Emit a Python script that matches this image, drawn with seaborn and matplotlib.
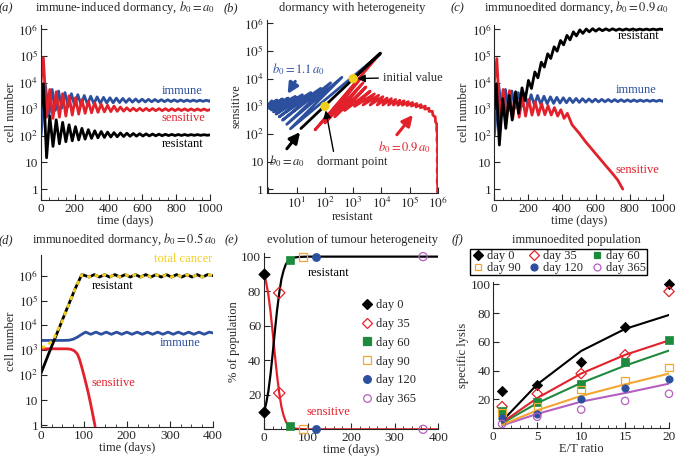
import numpy as np
import pandas as pd
import matplotlib
matplotlib.use('Agg')
import matplotlib.pyplot as plt
import seaborn as sns
from matplotlib.ticker import LogLocator, MultipleLocator, NullFormatter
from matplotlib.lines import Line2D

# ---------------- data ----------------
# (a) immune-induced dormancy, turning points of the oscillations
tumour_t = [0, 14, 33, 52, 71, 90, 109, 128, 147, 166, 185, 204, 223, 242, 261, 280, 299, 318,
            337, 356, 375, 394, 413, 432, 451, 470, 489, 508, 527, 546, 565, 584, 603, 622,
            641, 660, 679, 698, 717, 736, 755, 774, 793, 812, 831, 850, 869, 888, 907, 926,
            945, 964, 983, 1000]
a_sensitive = [1e4, 8.5e4, 500, 5500, 450, 4500, 500, 3800, 550, 3200, 600, 2700, 650, 2300,
               700, 2000, 730, 1750, 760, 1550, 790, 1400, 810, 1300, 830, 1200, 845, 1130,
               860, 1090, 865, 1080, 870, 1070, 872, 1060, 875, 1050, 878, 1045, 880, 1040,
               882, 1035, 884, 1030, 886, 1025, 888, 1020, 890, 1015, 892, 960]
a_resistant = [1e3, 9000, 15, 550, 40, 400, 50, 320, 60, 260, 65, 220, 70, 190, 75, 170, 80,
               155, 84, 145, 87, 138, 90, 132, 92, 128, 94, 125, 96, 122, 97, 120, 98, 118,
               99, 116, 100, 115, 101, 114, 102, 113, 102, 112, 103, 112, 103, 111, 104, 111,
               104, 110, 105, 108]
immune_t = [0, 26, 47, 66, 85, 104, 123, 142, 161, 180, 199, 218, 237, 256, 275, 294, 313, 332,
            351, 370, 389, 408, 427, 446, 465, 484, 503, 522, 541, 560, 579, 598, 617, 636,
            655, 674, 693, 712, 731, 750, 769, 788, 807, 826, 845, 864, 883, 902, 921, 940,
            959, 978, 997, 1000]
immune_cells = [100, 8000, 600, 5500, 900, 4800, 1100, 4200, 1250, 3800, 1350, 3500, 1450, 3250,
                1530, 3050, 1600, 2900, 1650, 2780, 1700, 2680, 1740, 2600, 1770, 2530, 1800,
                2470, 1830, 2420, 1850, 2380, 1870, 2340, 1890, 2310, 1900, 2280, 1910, 2260,
                1920, 2240, 1930, 2220, 1940, 2200, 1950, 2190, 1955, 2180, 1960, 2170, 1965,
                2100]

# (b) phase plane (log10 resistant, log10 sensitive)
b_black_logres = [3.0, 3.96, 1.15]
b_black_logsens = [4.0, 4.92, 2.2]
b_blue_logres = [3.0, 3.96, 0.78, 2.6, 0.65, 2.2, 0.5, 1.85, 0.38, 1.5, 0.27, 1.2, 0.18, 0.95,
                 0.1, 0.7, 0.04, 0.5, -0.02, 0.3, -0.06, 0.12]
b_blue_logsens = [4.0, 4.9, 2.19, 4.05, 2.35, 3.85, 2.5, 3.65, 2.62, 3.5, 2.72, 3.42, 2.8, 3.36,
                  2.87, 3.3, 2.92, 3.27, 2.96, 3.23, 3.0, 3.2]
b_red_logres = [3.0, 3.96, 1.65, 3.3, 2.0, 3.35, 2.35, 3.45, 2.7, 3.6, 3.05, 3.75, 3.35, 3.9,
                3.6, 4.05, 3.85, 4.2, 4.05, 4.35, 4.25, 4.5, 4.42, 4.65, 4.58, 4.8, 4.74, 4.95,
                4.9, 5.1, 5.06, 5.25, 5.22, 5.4, 5.38, 5.55, 5.53, 5.68, 5.68, 5.8, 5.82, 5.9,
                5.91, 5.96, 5.95, 5.98, 5.96, 5.99, 5.97, 5.99, 5.97, 5.99, 5.97, 5.99, 5.97,
                5.99, 5.98]
b_red_logsens = [4.0, 4.92, 2.15, 4.05, 2.4, 3.85, 2.62, 3.7, 2.85, 3.55, 3.0, 3.45, 3.05, 3.4,
                 3.05, 3.35, 3.05, 3.3, 3.05, 3.28, 3.05, 3.25, 3.05, 3.22, 3.04, 3.2, 3.04, 3.17,
                 3.03, 3.14, 3.01, 3.1, 2.98, 3.06, 2.95, 3.01, 2.9, 2.93, 2.82, 2.82, 2.68, 2.62,
                 2.45, 2.35, 2.15, 2.0, 1.8, 1.62, 1.42, 1.25, 1.05, 0.88, 0.68, 0.5, 0.3, 0.12,
                 -0.1]
marked_res = [1e3, 1e2]      # initial value, dormant point
marked_sens = [1e4, 1e3]

# (c) immunoedited dormancy, b0 = 0.9 a0
c_res_t = [0, 12, 30, 50, 68, 88, 106, 126, 144, 164, 182, 202, 220, 240, 258, 278, 296, 316,
           334, 354, 372, 392, 410, 430, 448, 468, 486, 506, 524, 544, 562, 582, 600, 620,
           640, 660, 680, 700, 720, 740, 760, 780, 800, 820, 840, 860, 880, 900, 920, 940,
           960, 980, 1000]
c_resistant = [1e3, 9000, 45, 2500, 190, 3300, 390, 4500, 700, 6300, 2100, 12000, 6000, 25000,
               15000, 58000, 38000, 120000, 80000, 220000, 150000, 380000, 260000, 590000,
               400000, 800000, 560000, 950000, 700000, 1.02e6, 800000, 1.05e6, 850000,
               1.05e6, 880000, 1.04e6, 900000, 1.04e6, 910000, 1.03e6, 920000, 1.03e6, 930000,
               1.03e6, 930000, 1.02e6, 940000, 1.02e6, 940000, 1.02e6, 950000, 1.02e6, 980000]
c_sens_t = [0, 15, 33, 52, 71, 90, 109, 128, 147, 166, 185, 204, 223, 242, 261, 280, 299, 318,
            337, 356, 375, 394, 413, 432, 460, 500, 540, 580, 620, 660, 700, 730, 760]
c_sensitive = [1e4, 8e4, 400, 5500, 400, 5000, 450, 4000, 500, 3000, 550, 2300, 600, 1900, 600,
               1600, 620, 1350, 600, 1150, 550, 950, 450, 700, 260, 130, 60, 30, 15, 7.5, 3.8,
               2.2, 1.0]

# (d) immunoedited dormancy, b0 = 0.5 a0
d_res_t = [0, 20, 40, 60, 80, 95, 100, 112, 124, 136, 148, 160, 172, 184, 196, 208, 220, 232,
           244, 256, 268, 280, 292, 304, 316, 328, 340, 352, 364, 376, 388, 400]
d_resistant = [120, 900, 6300, 45000, 310000, 1.1e6, 1.05e6, 8.8e5, 1.1e6, 8.8e5, 1.1e6, 8.8e5,
               1.1e6, 8.8e5, 1.1e6, 8.8e5, 1.1e6, 8.8e5, 1.1e6, 8.8e5, 1.1e6, 8.8e5, 1.1e6,
               8.8e5, 1.1e6, 8.8e5, 1.1e6, 8.8e5, 1.1e6, 8.8e5, 1.1e6, 1.0e6]
d_total_t = [0, 10, 20, 30, 40, 50, 60, 80, 95, 100, 112, 124, 136, 148, 160, 172, 184, 196, 208,
             220, 232, 244, 256, 268, 280, 292, 304, 316, 328, 340, 352, 364, 376, 388, 400]
d_total = [1300, 1400, 1900, 3000, 7000, 15000, 46000, 310000, 1.1e6, 1.05e6, 8.8e5, 1.1e6,
           8.8e5, 1.1e6, 8.8e5, 1.1e6, 8.8e5, 1.1e6, 8.8e5, 1.1e6, 8.8e5, 1.1e6, 8.8e5, 1.1e6,
           8.8e5, 1.1e6, 8.8e5, 1.1e6, 8.8e5, 1.1e6, 8.8e5, 1.1e6, 8.8e5, 1.1e6, 1.0e6]
d_sens_t = [0, 60, 70, 78, 85, 90, 95, 100, 105, 110, 115, 120, 126]
d_sensitive = [1150, 1150, 1100, 950, 700, 420, 210, 100, 45, 20, 8, 3, 0.9]
d_imm_t = [0, 50, 65, 75, 85, 95, 104, 116, 128, 140, 152, 164, 176, 188, 200, 212, 224, 236,
           248, 260, 272, 284, 296, 308, 320, 332, 344, 356, 368, 380, 392, 400]
d_immune = [2500, 2500, 2550, 2800, 3400, 4400, 5400, 4400, 5400, 4400, 5400, 4400, 5400, 4400,
            5400, 4400, 5400, 4400, 5400, 4400, 5400, 4400, 5400, 4400, 5400, 4400, 5400, 4400,
            5400, 4400, 5400, 5000]

# (e) evolution of tumour heterogeneity
day_names = ['day 0', 'day 35', 'day 60', 'day 90', 'day 120', 'day 365']
day_t = [0, 35, 60, 90, 120, 365]
e_res_pct = [10, 79, 98, 100, 100, 100]
e_sens_pct = [90, 21, 2, 0, 0, 0]
e_curve_t = [0, 5, 10, 15, 20, 25, 30, 35, 40, 45, 50, 55, 60, 70, 80, 100, 150, 400]
e_res_curve = [10, 15, 22, 32, 44, 57, 69, 79, 87, 92, 95.5, 97.5, 98.5, 99.5, 99.8, 100, 100, 100]
e_sens_curve = [90, 85, 78, 68, 56, 43, 31, 21, 13, 8, 4.5, 2.5, 1.5, 0.5, 0.2, 0, 0, 0]

# (f) immunoedited population
et_ratio = [1, 5, 10, 15, 20]
lysis_day0 = [26, 30, 46, 70, 100]
lysis_day35 = [15, 24, 38, 51, 95]
lysis_day60 = [12, 18, 31, 46, 61]
lysis_day90 = [11, 15, 27, 33, 42]
lysis_day120 = [7, 10, 20, 28, 34]
lysis_day365 = [3, 8, 13, 19, 24]
fit_day0 = [5, 30.5, 53.7, 69, 78.7]
fit_day35 = [4, 21, 38, 51, 61]
fit_day60 = [3.5, 17.5, 31.5, 43.5, 54]
fit_day90 = [2.5, 12.5, 22.5, 30.5, 38]
fit_day365 = [2, 10, 18.5, 24.5, 31]

# ---------------- style ----------------
sns.set_style('ticks')
plt.rcParams['font.family'] = ['Liberation Serif', 'DejaVu Serif']
plt.rcParams['mathtext.fontset'] = 'stix'
plt.rcParams['xtick.direction'] = 'in'
plt.rcParams['ytick.direction'] = 'in'
plt.rcParams['axes.linewidth'] = 0.8
plt.rcParams['xtick.major.size'] = 4
plt.rcParams['ytick.major.size'] = 4
plt.rcParams['xtick.minor.size'] = 2
plt.rcParams['ytick.minor.size'] = 2

BLUE = '#2c4f9e'
RED = '#e3212b'
YELLOW = '#f2cf1c'
GREEN = '#1e8a3e'
ORANGE = '#f4a630'
PURPLE = '#b55fbf'
TICK_FS = 9.5
LAB_FS = 9
TXT_FS = 9

W, H = 676, 459
fig = plt.figure(figsize=(W / 100, H / 100), dpi=100)


def add_ax(l, t, r, b):
    ax = fig.add_axes([l / W, 1 - b / H, (r - l) / W, (b - t) / H])
    sns.despine(ax=ax)
    ax.tick_params(labelsize=TICK_FS, pad=2)
    return ax


def ftext(x, y, s, **kw):
    kw.setdefault('fontsize', TXT_FS)
    kw.setdefault('ha', 'center')
    kw.setdefault('va', 'center')
    fig.text(x / W, 1 - y / H, s, **kw)


def line(ax, x, y, color, lw=2.0, **kw):
    df = pd.DataFrame({'x': x, 'y': y})
    sns.lineplot(data=df, x='x', y='y', ax=ax, color=color, lw=lw, sort=False,
                 estimator=None, **kw)


LOG_TICKS = [1, 10, 1e2, 1e3, 1e4, 1e5, 1e6]
LOG_LABELS = ['1', '10', '$10^2$', '$10^3$', '$10^4$', '$10^5$', '$10^6$']


def log_y(ax, lo, hi):
    ax.set_yscale('log')
    ax.set_ylim(10 ** lo, 10 ** hi)
    ax.set_yticks(LOG_TICKS)
    ax.set_yticklabels(LOG_LABELS)
    ax.yaxis.set_minor_locator(LogLocator(base=10, subs=np.arange(2, 10)))
    ax.yaxis.set_minor_formatter(NullFormatter())


# ---------------- (a) ----------------
ax = add_ax(41, 25, 210, 200)
line(ax, immune_t, immune_cells, BLUE)
line(ax, tumour_t, a_sensitive, RED)
line(ax, tumour_t, a_resistant, 'black')
log_y(ax, -0.41, 6.16)
ax.set_xlim(0, 1000)
ax.set_xticks([0, 200, 400, 600, 800, 1000])
ax.xaxis.set_minor_locator(MultipleLocator(50))
ax.set_xlabel('time (days)', fontsize=LAB_FS, labelpad=0)
ax.set_ylabel('cell number', fontsize=LAB_FS, labelpad=1)
ftext(182, 91, 'immune', color=BLUE)
ftext(183, 118, 'sensitive', color=RED)
ftext(183, 144, 'resistant', color='black')

# ---------------- (b) ----------------
ax = add_ax(266.7, 20, 438.3, 192.7)
line(ax, 10 ** np.array(b_blue_logres), 10 ** np.array(b_blue_logsens), BLUE)
line(ax, 10 ** np.array(b_red_logres), 10 ** np.array(b_red_logsens), RED)
line(ax, 10 ** np.array(b_black_logres), 10 ** np.array(b_black_logsens), 'black')
sns.scatterplot(x=marked_res, y=marked_sens, ax=ax, color=YELLOW, s=45, edgecolor='none',
                zorder=5)
ax.set_xscale('log')
log_y(ax, -0.12, 6.12)
ax.set_xlim(10 ** -0.06, 10 ** 6.01)
ax.set_xticks(LOG_TICKS)
ax.set_xticklabels(['', '$10^1$', '$10^2$', '$10^3$', '$10^4$', '$10^5$', '$10^6$'])
ax.xaxis.set_minor_locator(LogLocator(base=10, subs=np.arange(2, 10)))
ax.xaxis.set_minor_formatter(NullFormatter())
ax.set_xlabel('resistant', fontsize=LAB_FS, labelpad=0)
ax.set_ylabel('sensitive', fontsize=LAB_FS, labelpad=1)

thin = dict(arrowstyle='-|>,head_length=0.5,head_width=0.25', lw=1.0, color='black',
            shrinkA=1, shrinkB=3)
ax.annotate('initial value', xy=(1e3, 1e4), xycoords='data', xytext=(383, H - 78),
            textcoords='figure pixels', ha='left', va='center', fontsize=TXT_FS,
            arrowprops=dict(thin, relpos=(0, 0.5)))
ax.annotate('dormant point', xy=(1e2, 1e3), xycoords='data', xytext=(352, H - 162),
            textcoords='figure pixels', ha='center', va='center', fontsize=TXT_FS,
            arrowprops=dict(thin, relpos=(0.25, 1)))
bold = dict(arrowstyle='-|>,head_length=0.7,head_width=0.35', lw=2.2, shrinkA=1, shrinkB=0)
ax.annotate('$b_0 = a_0$', xy=(10 ** 1.12, 10 ** 2.07), xycoords='data', xytext=(287, H - 161),
            textcoords='figure pixels', ha='center', va='center', fontsize=TXT_FS,
            arrowprops=dict(bold, color='black', relpos=(0.4, 1)))
ax.annotate('$b_0 = 1.1\\,a_0$', xy=(10 ** 0.68, 10 ** 3.45), xycoords='data',
            xytext=(298, H - 69), textcoords='figure pixels', ha='center', va='center',
            fontsize=TXT_FS, color=BLUE,
            arrowprops=dict(bold, color=BLUE, relpos=(0.5, 0)))
ax.annotate('$b_0 = 0.9\\,a_0$', xy=(10 ** 5.11, 10 ** 2.69), xycoords='data',
            xytext=(404, H - 147), textcoords='figure pixels', ha='center', va='center',
            fontsize=TXT_FS, color=RED,
            arrowprops=dict(bold, color=RED, relpos=(0.3, 1)))

# ---------------- (c) ----------------
ax = add_ax(494.3, 25, 663.3, 200)
line(ax, immune_t, immune_cells, BLUE)
line(ax, c_sens_t, c_sensitive, RED)
line(ax, c_res_t, c_resistant, 'black')
log_y(ax, -0.41, 6.16)
ax.set_xlim(0, 1000)
ax.set_xticks([0, 200, 400, 600, 800, 1000])
ax.xaxis.set_minor_locator(MultipleLocator(50))
ax.set_xlabel('time (days)', fontsize=LAB_FS, labelpad=0)
ax.set_ylabel('cell number', fontsize=LAB_FS, labelpad=1)
ftext(639, 36, 'resistant', color='black')
ftext(636, 90, 'immune', color=BLUE)
ftext(637, 170, 'sensitive', color=RED)

# ---------------- (d) ----------------
ax = add_ax(41, 255, 212.7, 427)
line(ax, d_imm_t, d_immune, BLUE)
line(ax, d_sens_t, d_sensitive, RED)
line(ax, d_res_t, d_resistant, 'black')
line(ax, d_total_t, d_total, YELLOW, lw=2.0, linestyle=(0, (1.5, 1.5)))
log_y(ax, -0.08, 6.83)
ax.set_xlim(0, 400)
ax.set_xticks([0, 100, 200, 300, 400])
ax.xaxis.set_minor_locator(MultipleLocator(25))
ax.set_xlabel('time (days)', fontsize=LAB_FS, labelpad=0)
ax.set_ylabel('cell number', fontsize=LAB_FS, labelpad=1)
ftext(183, 259, 'total cancer', color=YELLOW)
ftext(113, 286, 'resistant', color='black')
ftext(180, 343, 'immune', color=BLUE)
ftext(113, 383, 'sensitive', color=RED)

# ---------------- markers for (e) and (f) ----------------
day_style = [('D', 'black', True), ('D', RED, False), ('s', GREEN, True),
             ('s', ORANGE, False), ('o', BLUE, True), ('o', PURPLE, False)]


def marks(ax, x, y, style, size):
    m, c, filled = style
    if filled:
        sns.scatterplot(x=x, y=y, ax=ax, marker=m, color=c, s=size, edgecolor=c,
                        linewidth=0.5, zorder=5, clip_on=False)
    else:
        sns.scatterplot(x=x, y=y, ax=ax, marker=m, facecolor='none', edgecolor=c,
                        color=c, s=size, linewidth=0.9, zorder=5, clip_on=False)


def handles(size):
    hs = []
    for m, c, filled in day_style:
        hs.append(Line2D([], [], ls='none', marker=m, markersize=size,
                         markerfacecolor=c if filled else 'none', markeredgecolor=c,
                         markeredgewidth=0.9))
    return hs


# ---------------- (e) ----------------
ax = add_ax(264, 253, 438.3, 429.3)
line(ax, e_curve_t, e_sens_curve, RED, lw=1.6)
line(ax, e_curve_t, e_res_curve, 'black', lw=1.6)
for i, st in enumerate(day_style):
    marks(ax, [day_t[i], day_t[i]], [e_res_pct[i], e_sens_pct[i]], st, 34)
ax.set_xlim(0, 400)
ax.set_ylim(0, 102.1)
ax.set_xticks([0, 100, 200, 300, 400])
ax.set_yticks([0, 20, 40, 60, 80, 100])
ax.set_yticklabels(['', '20', '40', '60', '80', '100'])
ax.xaxis.set_minor_locator(MultipleLocator(20))
ax.set_xlabel('time (days)', fontsize=LAB_FS, labelpad=0)
ax.set_ylabel('% of population', fontsize=LAB_FS, labelpad=1)
ftext(329, 273, 'resistant', color='black')
ftext(328, 412, 'sensitive', color=RED)
leg = ax.legend(handles(5.5), day_names, loc='upper left', frameon=False,
                bbox_to_anchor=((361 - 264) / 174.3, (429.3 - 299) / 176.3),
                fontsize=TXT_FS, handletextpad=0.2, labelspacing=0.55, borderaxespad=0,
                handlelength=1.0, borderpad=0)

# ---------------- (f) ----------------
ax = add_ax(493.3, 281.7, 669, 428.3)
line(ax, et_ratio, fit_day365, PURPLE, lw=1.5)
line(ax, et_ratio, fit_day90, ORANGE, lw=1.5)
line(ax, et_ratio, fit_day60, GREEN, lw=1.5)
line(ax, et_ratio, fit_day35, RED, lw=1.5)
line(ax, et_ratio, fit_day0, 'black', lw=1.5)
lysis = [lysis_day0, lysis_day35, lysis_day60, lysis_day90, lysis_day120, lysis_day365]
for i, st in enumerate(day_style):
    marks(ax, et_ratio, lysis[i], st, 28)
ax.set_xlim(0, 20)
ax.set_ylim(0, 101.8)
ax.set_xticks([0, 5, 10, 15, 20])
ax.set_yticks([0, 20, 40, 60, 80, 100])
ax.set_yticklabels(['', '20', '40', '60', '80', '100'])
ax.xaxis.set_minor_locator(MultipleLocator(1))
ax.set_xlabel('E/T ratio', fontsize=LAB_FS, labelpad=0)
ax.set_ylabel('specific lysis', fontsize=LAB_FS, labelpad=1)
hs = handles(5)
order = [0, 3, 1, 4, 2, 5]
fig.legend([hs[i] for i in order], [day_names[i] for i in order], ncol=3,
           loc='upper left', bbox_to_anchor=(470 / W, 1 - 249 / H), fontsize=TXT_FS,
           frameon=True, fancybox=False, edgecolor='black', framealpha=1,
           handletextpad=0.25, columnspacing=0.55, labelspacing=-0.05, borderpad=0.12,
           handlelength=1.0, borderaxespad=0)

# ---------------- panel titles ----------------
ftext(6, 8, '(a)', style='italic')
ftext(125, 8, 'immune-induced dormancy, $b_0 = a_0$')
ftext(231, 8, '(b)', style='italic')
ftext(352, 8, 'dormancy with heterogeneity')
ftext(457, 8, '(c)', style='italic')
ftext(576, 8, 'immunoedited dormancy, $b_0 = 0.9\\,a_0$')
ftext(6, 240, '(d)', style='italic')
ftext(124, 240, 'immunoedited dormancy, $b_0 = 0.5\\,a_0$')
ftext(231, 240, '(e)', style='italic')
ftext(353, 240, 'evolution of tumour heterogeneity')
ftext(457, 240, '(f)', style='italic')
ftext(576, 240, 'immunoedited population')

fig.savefig('out.png', dpi=100)
